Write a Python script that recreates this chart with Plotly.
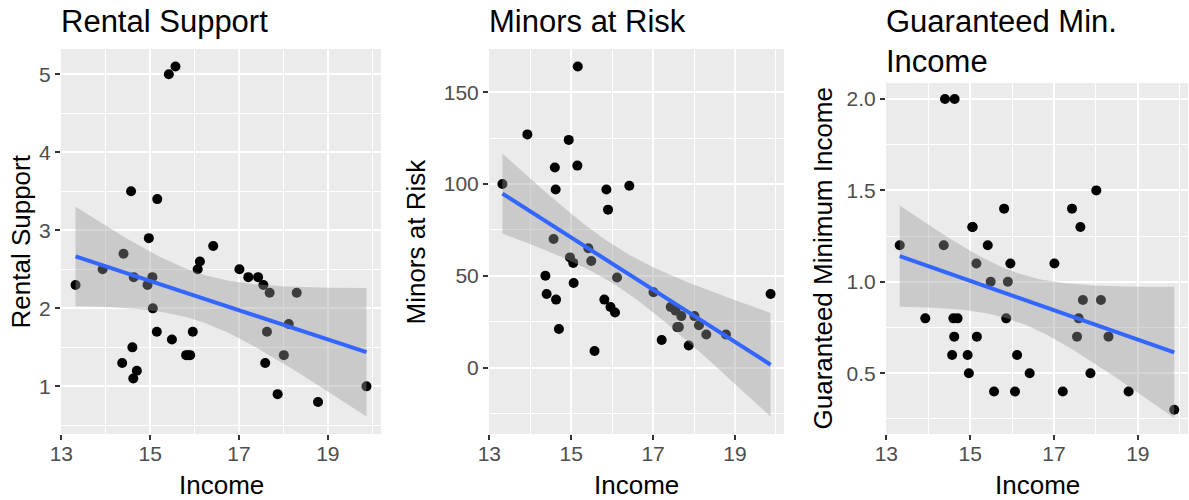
import numpy as np
import plotly.graph_objects as go

# ---------------- data ----------------
income = [13.32, 13.93, 14.37, 14.40, 14.57, 14.60, 14.62, 14.63, 14.70, 14.94,
          14.97, 15.05, 15.06, 15.15, 15.16, 15.42, 15.49, 15.57, 15.81, 15.86,
          15.90, 15.96, 16.07, 16.12, 16.42, 17.01, 17.21, 17.43, 17.55, 17.59,
          17.63, 17.69, 17.87, 18.01, 18.12, 18.30, 18.78, 19.87]

rental_support = [2.3, 2.5, 1.3, 2.7, 3.5, 1.5, 1.1, 2.4, 1.2, 2.3,
                  2.9, 2.4, 2.0, 1.7, 3.4, 5.0, 1.6, 5.1, 1.4, 1.4,
                  1.4, 1.7, 2.5, 2.6, 2.8, 2.5, 2.4, 2.4, 2.3, 1.3,
                  1.7, 2.2, 0.9, 1.4, 1.8, 2.2, 0.8, 1.0]

minors_at_risk = [100, 127, 50, 40, 70, 109, 97, 37, 21, 124,
                  60, 57, 46, 110, 164, 65, 58, 9, 37, 97,
                  86, 33, 30, 49, 99, 41, 15, 33, 31, 22,
                  22, 28, 12, 28, 23, 18, 18, 40]

guaranteed_min_income = [1.2, 0.8, 1.2, 2.0, 0.6, 0.8, 0.7, 2.0, 0.8, 0.6,
                         0.5, 1.3, 1.3, 1.1, 0.7, 1.2, 1.0, 0.4, 1.4, 0.8,
                         1.0, 1.1, 0.4, 0.6, 0.5, 1.1, 0.4, 1.4, 0.7, 0.8,
                         1.3, 0.9, 0.5, 1.5, 0.9, 0.7, 0.4, 0.3]

panel_titles = ["Rental Support", "Minors at Risk", "Guaranteed Min.<br>Income"]
y_titles = ["Rental Support", "Minors at Risk", "Guaranteed Minimum Income"]
x_title = "Income"
x_ticks = [13, 15, 17, 19]
y_ticks = [[1, 2, 3, 4, 5], [0, 50, 100, 150], [0.5, 1.0, 1.5, 2.0]]
y_minor = [(0.5, 1), (25, 50), (0.25, 0.5)]
y_fmt = ["d", "d", ".1f"]
series = [rental_support, minors_at_risk, guaranteed_min_income]

# ---------------- layout geometry (pixels) ----------------
W, H = 1189, 500
panels_px = [  # left, right, top, bottom
    (61, 381, 49, 434),
    (489, 784, 49, 434),
    (886, 1188, 83, 434),
]
ytitle_x = [20, 415, 822]

FONT = "Liberation Sans, Arial, sans-serif"
BLUE = "#3366FF"


def lm_band(x, y, n_grid=80):
    x = np.asarray(x, float)
    y = np.asarray(y, float)
    n = len(x)
    b, a = np.polyfit(x, y, 1)
    resid = y - (a + b * x)
    s = np.sqrt(np.sum(resid ** 2) / (n - 2))
    xbar = x.mean()
    sxx = np.sum((x - xbar) ** 2)
    df = n - 2
    z = 1.959964
    t = z + (z ** 3 + z) / (4 * df) + (5 * z ** 5 + 16 * z ** 3 + 3 * z) / (96 * df ** 2)
    xg = np.linspace(x.min(), x.max(), n_grid)
    yg = a + b * xg
    se = s * np.sqrt(1.0 / n + (xg - xbar) ** 2 / sxx)
    return xg, yg, yg - t * se, yg + t * se


def expand(lo, hi, f=0.05):
    r = hi - lo
    return [lo - f * r, hi + f * r]


fig = go.Figure()
annotations = []

for i, (yvals, (l, r, t, b)) in enumerate(zip(series, panels_px)):
    k = "" if i == 0 else str(i + 1)
    xa, ya = "x" + k, "y" + k
    xg, yg, lo, hi = lm_band(income, yvals)

    # points
    fig.add_trace(go.Scatter(x=income, y=yvals, mode="markers", xaxis=xa, yaxis=ya,
                             marker=dict(color="black", size=10, line=dict(width=0)),
                             showlegend=False, hoverinfo="skip"))
    # confidence ribbon
    fig.add_trace(go.Scatter(x=np.concatenate([xg, xg[::-1]]),
                             y=np.concatenate([hi, lo[::-1]]),
                             mode="lines", fill="toself", xaxis=xa, yaxis=ya,
                             fillcolor="rgba(153,153,153,0.4)", line=dict(width=0),
                             showlegend=False, hoverinfo="skip"))
    # fitted line
    fig.add_trace(go.Scatter(x=xg, y=yg, mode="lines", xaxis=xa, yaxis=ya,
                             line=dict(color=BLUE, width=4),
                             showlegend=False, hoverinfo="skip"))

    xr = expand(min(income), max(income))
    yr = expand(min(min(yvals), lo.min()), max(max(yvals), hi.max()))

    axis_common = dict(showline=False, zeroline=False, ticks="outside", ticklen=5,
                       tickwidth=2, tickcolor="#333333", showgrid=True,
                       gridcolor="white", gridwidth=2.2, automargin=False,
                       tickfont=dict(family=FONT, size=21, color="#4D4D4D"))
    fig.update_layout(**{
        "xaxis" + k: dict(axis_common, domain=[l / W, r / W], range=xr,
                          tickvals=x_ticks, anchor=ya, ticklabelstandoff=-4,
                          minor=dict(tick0=14, dtick=2, showgrid=True,
                                     gridcolor="white", gridwidth=1.1, ticklen=0)),
        "yaxis" + k: dict(axis_common, domain=[1 - b / H, 1 - t / H], range=yr,
                          tickvals=y_ticks[i], tickformat=y_fmt[i], anchor=xa,
                          minor=dict(tick0=y_minor[i][0], dtick=y_minor[i][1],
                                     showgrid=True, gridcolor="white",
                                     gridwidth=1.1, ticklen=0)),
    })

    # panel background
    fig.add_shape(type="rect", xref="paper", yref="paper", x0=l / W, x1=r / W,
                  y0=1 - b / H, y1=1 - t / H, fillcolor="#EBEBEB",
                  line=dict(width=0), layer="below")

    # panel title
    annotations.append(dict(text=panel_titles[i], xref="paper", yref="paper",
                            x=(l - 2) / W, y=1.0 - 2 / H, xanchor="left", yanchor="top",
                            align="left", showarrow=False,
                            font=dict(family=FONT, size=31, color="black")))
    # x axis title
    annotations.append(dict(text=x_title, xref="paper", yref="paper",
                            x=(l + r) / 2 / W, y=1 - 485 / H, xanchor="center",
                            yanchor="middle", showarrow=False,
                            font=dict(family=FONT, size=26, color="black")))
    # y axis title
    annotations.append(dict(text=y_titles[i], xref="paper", yref="paper",
                            x=ytitle_x[i] / W, y=1 - (t + b) / 2 / H, xanchor="center",
                            yanchor="middle", textangle=-90, showarrow=False,
                            font=dict(family=FONT, size=26, color="black")))

fig.update_layout(width=W, height=H, margin=dict(l=0, r=0, t=0, b=0, pad=0),
                  paper_bgcolor="white", plot_bgcolor="rgba(0,0,0,0)",
                  annotations=annotations, showlegend=False,
                  font=dict(family=FONT))

fig.write_html("out.html", config={"displayModeBar": False},
               post_script="document.body.style.margin='0';"
                           "document.body.style.overflow='hidden';")
